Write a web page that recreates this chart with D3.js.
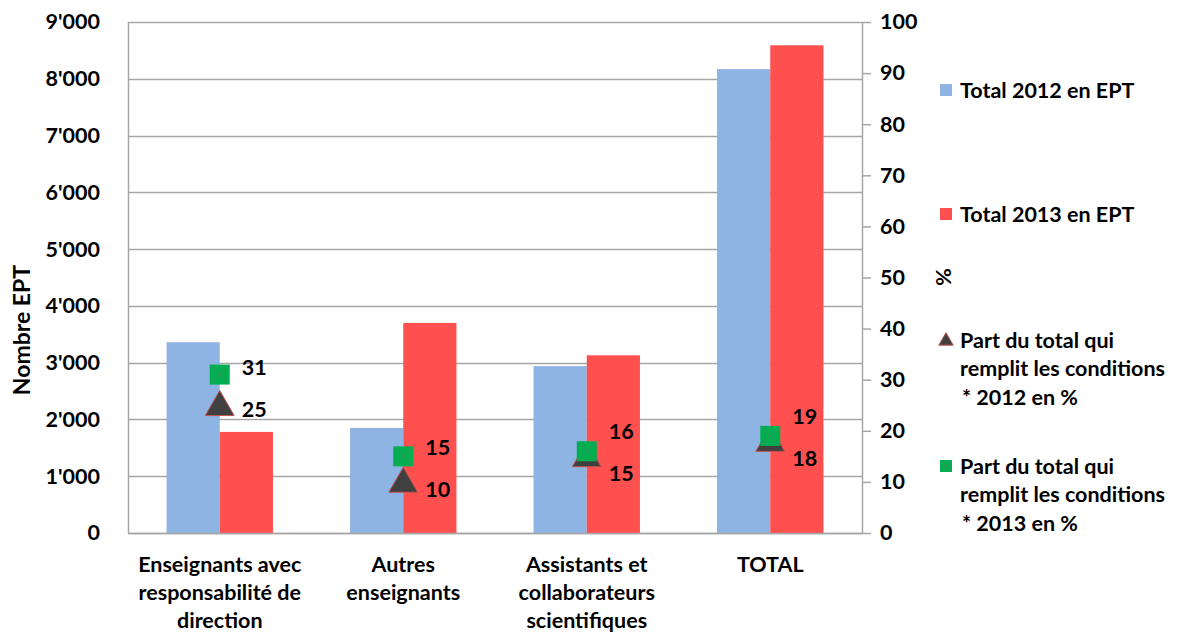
<!DOCTYPE html>
<html>
<head>
<meta charset="utf-8">
<script src="https://cdn.jsdelivr.net/npm/d3@7"></script>
<style>
  body { margin: 0; background: #fff; }
  svg text { font-family: Lato, "Open Sans", sans-serif; font-weight: bold; fill: #000; }
</style>
</head>
<body>
<div id="container"></div>
<script>
const categories = [
    ["Enseignants avec", "responsabilité de", "direction"],
    ["Autres", "enseignants"],
    ["Assistants et", "collaborateurs", "scientifiques"],
    ["TOTAL"]
];
const total2012 = [3360, 1850, 2940, 8170];
const total2013 = [1780, 3700, 3130, 8590];
const part2012 = [25, 10, 15, 18];
const part2013 = [31, 15, 16, 19];
const leftTicks = [0, 1000, 2000, 3000, 4000, 5000, 6000, 7000, 8000, 9000];
const rightTicks = [0, 10, 20, 30, 40, 50, 60, 70, 80, 90, 100];
const legendLabels = [
    ["Total 2012 en EPT"],
    ["Total 2013 en EPT"],
    ["Part du total qui", "remplit les conditions", "* 2012 en %"],
    ["Part du total qui", "remplit les conditions", "* 2013 en %"]
];

const w = 1185, h = 636;
const plot = {left: 128, right: 862, top: 22, bottom: 533};
const BLUE = "#8EB4E3", RED = "#FF5050", GREEN = "#00B050", DARK = "#404040", GRID = "#A6A6A6";
const FS = "21.5px";

const svg = d3.select("#container").append("svg")
    .attr("width", w)
    .attr("height", h);

const x = d3.scaleBand()
    .domain(d3.range(categories.length))
    .range([plot.left, plot.right])
    .paddingInner(0.42)
    .paddingOuter(0.21);

const xSub = d3.scaleBand()
    .domain([0, 1])
    .range([0, x.bandwidth()]);

const y = d3.scaleLinear().domain([0, 9000]).range([plot.bottom, plot.top]);
const yPct = d3.scaleLinear().domain([0, 100]).range([plot.bottom, plot.top]);

// gridlines
svg.append("g")
    .selectAll("line")
    .data(leftTicks)
    .enter()
    .append("line")
    .attr("x1", plot.left)
    .attr("x2", plot.right)
    .attr("y1", (d) => Math.round(y(d)) + 0.5)
    .attr("y2", (d) => Math.round(y(d)) + 0.5)
    .attr("stroke", GRID)
    .attr("stroke-width", 1.5);

// left axis
const leftAxis = svg.append("g")
    .attr("transform", "translate(" + plot.left + ",0)")
    .call(d3.axisLeft(y).tickValues(leftTicks).tickSize(0).tickPadding(28)
          .tickFormat((d) => d3.format(",")(d).replace(",", "'")));
leftAxis.select(".domain").attr("stroke", GRID).attr("stroke-width", 1.5);
leftAxis.selectAll("text").style("font-size", FS);

// right axis
const rightAxis = svg.append("g")
    .attr("transform", "translate(" + plot.right + ",0)")
    .call(d3.axisRight(yPct).tickValues(rightTicks).tickSize(9).tickSizeOuter(0).tickPadding(9));
rightAxis.select(".domain").attr("stroke", GRID).attr("stroke-width", 1.5);
rightAxis.selectAll(".tick line").attr("stroke", GRID).attr("stroke-width", 1.5);
rightAxis.selectAll("text").style("font-size", FS);

// bars
const groups = svg.append("g")
    .selectAll("g")
    .data(categories.map((c, i) => i))
    .enter()
    .append("g")
    .attr("transform", (i) => "translate(" + x(i) + ",0)");

groups.append("rect")
    .attr("x", xSub(0))
    .attr("width", xSub.bandwidth())
    .attr("y", (i) => y(total2012[i]))
    .attr("height", (i) => y(0) - y(total2012[i]))
    .attr("fill", BLUE);

groups.append("rect")
    .attr("x", xSub(1))
    .attr("width", xSub.bandwidth())
    .attr("y", (i) => y(total2013[i]))
    .attr("height", (i) => y(0) - y(total2013[i]))
    .attr("fill", RED);

// bottom axis line on top of bars
svg.append("line")
    .attr("x1", plot.left).attr("x2", plot.right)
    .attr("y1", plot.bottom + 0.5).attr("y2", plot.bottom + 0.5)
    .attr("stroke", GRID).attr("stroke-width", 1.5);

// markers
const tri = d3.symbol().type(d3.symbolTriangle).size(360);
const cx = (i) => x(i) + x.bandwidth() / 2;

svg.append("g")
    .selectAll("path")
    .data(part2012)
    .enter()
    .append("path")
    .attr("d", tri)
    .attr("transform", (d, i) => "translate(" + cx(i) + "," + (yPct(d) + 2) + ")")
    .attr("fill", DARK)
    .attr("stroke", "#C0504D")
    .attr("stroke-width", 1);

const sq = svg.append("g")
    .selectAll("g")
    .data(part2013)
    .enter()
    .append("g")
    .attr("transform", (d, i) => "translate(" + cx(i) + "," + yPct(d) + ")");
sq.append("rect")
    .attr("x", -10).attr("y", -10).attr("width", 20).attr("height", 20)
    .attr("fill", GREEN);
sq.append("path")
    .attr("d", "M-9,-9L9,9M9,-9L-9,9")
    .attr("stroke", "#3F8F5F")
    .attr("stroke-width", 1);

// point labels, pushed apart when the two values are close
const minGap = 38;
part2012.forEach((v12, i) => {
    let y12 = yPct(v12) + 2, y13 = yPct(part2013[i]);
    if (y12 - y13 < minGap) {
        const mid = (y12 + y13) / 2;
        y13 = mid - minGap / 2 - 4;
        y12 = mid + minGap / 2;
    }
    svg.append("text")
        .attr("x", cx(i) + 22)
        .attr("y", y13)
        .attr("dy", "0.35em")
        .style("font-size", FS)
        .text(part2013[i]);
    svg.append("text")
        .attr("x", cx(i) + 22)
        .attr("y", y12)
        .attr("dy", "0.35em")
        .style("font-size", FS)
        .text(v12);
});

// category labels
const catText = svg.append("g")
    .selectAll("text")
    .data(categories)
    .enter()
    .append("text")
    .attr("x", (d, i) => cx(i))
    .attr("y", 572)
    .attr("text-anchor", "middle")
    .style("font-size", FS);
catText.selectAll("tspan")
    .data((d) => d)
    .enter()
    .append("tspan")
    .attr("x", function () { return d3.select(this.parentNode).attr("x"); })
    .attr("dy", (d, j) => j === 0 ? 0 : 28)
    .text((d) => d);

// axis titles
svg.append("text")
    .attr("transform", "translate(30,330) rotate(-90)")
    .attr("text-anchor", "middle")
    .style("font-size", "23px")
    .text("Nombre EPT");

svg.append("text")
    .attr("transform", "translate(936,277) rotate(90)")
    .attr("text-anchor", "middle")
    .style("font-size", FS)
    .text("%");

// legend
const legendY = [90, 214, 340, 466];
const legend = svg.append("g").attr("id", "legend");
legendLabels.forEach((lines, k) => {
    const g = legend.append("g").attr("transform", "translate(940," + legendY[k] + ")");
    if (k === 0 || k === 1) {
        g.append("rect").attr("x", 0).attr("y", -6).attr("width", 12).attr("height", 12)
            .attr("fill", k === 0 ? BLUE : RED);
    } else if (k === 2) {
        g.append("path").attr("d", d3.symbol().type(d3.symbolTriangle).size(90))
            .attr("transform", "translate(6,1)")
            .attr("fill", DARK).attr("stroke", "#C0504D").attr("stroke-width", 1);
    } else {
        g.append("rect").attr("x", 0).attr("y", -6).attr("width", 12).attr("height", 12)
            .attr("fill", GREEN);
        g.append("path").attr("d", "M1,-5L11,5M11,-5L1,5").attr("stroke", "#3F8F5F").attr("stroke-width", 1);
    }
    const t = g.append("text")
        .attr("x", 20)
        .attr("y", 0)
        .style("font-size", FS);
    t.selectAll("tspan")
        .data(lines)
        .enter()
        .append("tspan")
        .attr("x", (d, j) => j === 2 ? 22 : 20)
        .attr("dy", (d, j) => j === 0 ? "0.35em" : 28.5)
        .text((d) => d);
});
</script>
</body>
</html>
